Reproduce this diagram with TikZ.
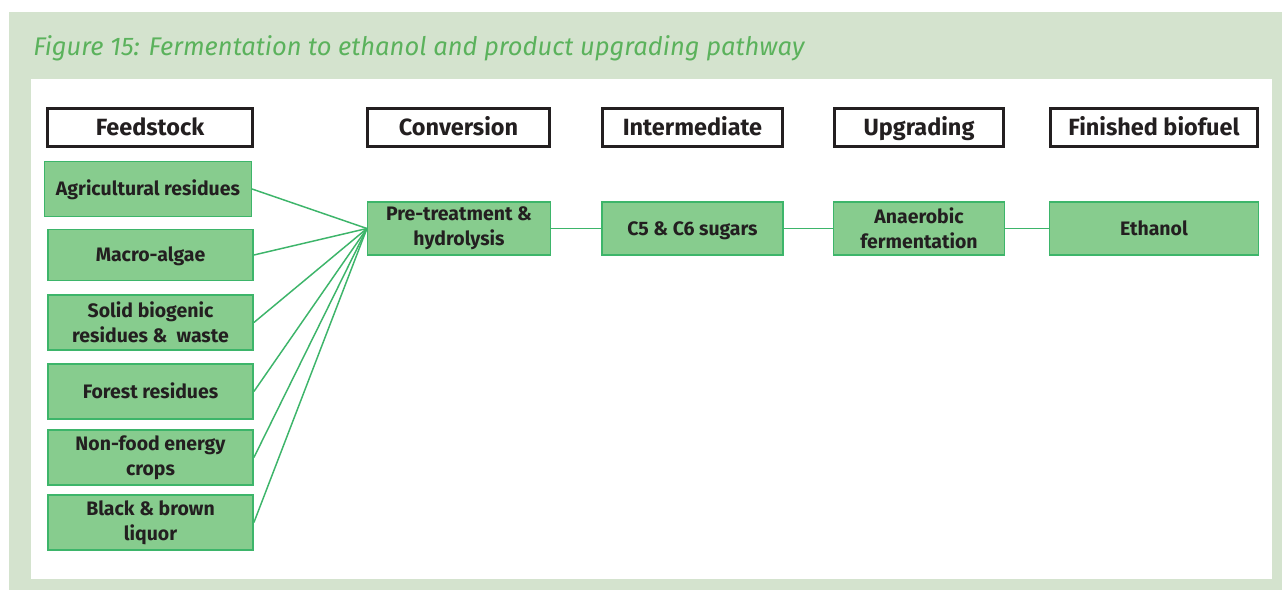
\documentclass[tikz,border=0pt]{standalone}
\usepackage{fontspec}
\setmainfont{Fira Sans}
\definecolor{panel}{HTML}{D4E3CE}
\definecolor{titlegreen}{HTML}{5BB25C}
\definecolor{boxfill}{HTML}{87CC8E}
\definecolor{boxline}{HTML}{3DB56A}
\definecolor{ink}{HTML}{231F20}
\tikzset{
  hdr/.style={draw=ink, line width=2.25pt, fill=white, text=ink, inner sep=0pt,
    minimum height=28.5pt, text height=12.1pt, text depth=0pt,
    font=\fontsize{17.6pt}{20pt}\selectfont\bfseries},
  gbox/.style={draw=boxline, line width=1.1pt, fill=boxfill, text=ink, inner sep=0pt,
    align=center, font=\fontsize{14.6pt}{18.75pt}\selectfont\bfseries},
  oneline/.style={text height=10.1pt, text depth=0pt},
  conn/.style={draw=boxline, line width=1.1pt},
}
\begin{document}
\begin{tikzpicture}[x=0.75pt, y=-0.75pt]
\useasboundingbox (0,0) rectangle (1282,590);
\fill[white] (0,0) rectangle (1282,590);
\fill[panel] (9,12) rectangle (1282,590);
\fill[white] (31,79) rectangle (1272,579);
\node[anchor=base west, text=titlegreen, inner sep=0pt,
  font=\fontsize{19.15pt}{22pt}\selectfont\itshape] (title) at (33,55)
  {Figure 15: Fermentation to ethanol and product upgrading pathway};
% headers
\node[hdr, minimum width=153.75pt] (hfeed) at (150,127.5) {Feedstock};
\node[hdr, minimum width=136.5pt] (hconv) at (458.5,127.5) {Conversion};
\node[hdr, minimum width=135pt] (hint) at (692.5,127.5) {Intermediate};
\node[hdr, minimum width=126.75pt] (hupg) at (919,127.5) {Upgrading};
\node[hdr, minimum width=155.25pt] (hfin) at (1154,127.5) {Finished biofuel};
% feedstocks
\node[gbox, oneline, minimum width=155pt, minimum height=41pt] (ag) at (148,189) {Agricultural residues};
\node[gbox, oneline, minimum width=154pt, minimum height=38pt] (macro) at (150.5,255) {Macro-algae};
\node[gbox, minimum width=154pt, minimum height=41.5pt] (solid) at (150.5,322.5) {Solid biogenic\\residues \&\ \ waste};
\node[gbox, oneline, minimum width=154pt, minimum height=41.5pt] (forest) at (150.5,391.5) {Forest residues};
\node[gbox, minimum width=154pt, minimum height=41.5pt] (nonfood) at (150.5,457.5) {Non-food energy\\crops};
\node[gbox, minimum width=154pt, minimum height=41.5pt] (black) at (150.5,522.5) {Black \& brown\\liquor};
% pathway
\node[gbox, minimum width=137pt, minimum height=40pt] (pre) at (459,228.5) {Pre-treatment \&\\hydrolysis};
\node[gbox, oneline, minimum width=136pt, minimum height=40pt] (sug) at (692.5,228.5) {C5 \& C6 sugars};
\node[gbox, minimum width=128pt, minimum height=40pt] (ana) at (919,228.5) {Anaerobic\\fermentation};
\node[gbox, oneline, minimum width=156.5pt, minimum height=40pt] (eth) at (1154,228.5) {Ethanol};
% connectors
\foreach \n in {ag,macro,solid,forest,nonfood,black}
  \draw[conn] (\n.east) -- (pre.west);
\draw[conn] (pre.east) -- (sug.west);
\draw[conn] (sug.east) -- (ana.west);
\draw[conn] (ana.east) -- (eth.west);
\end{tikzpicture}
\end{document}
